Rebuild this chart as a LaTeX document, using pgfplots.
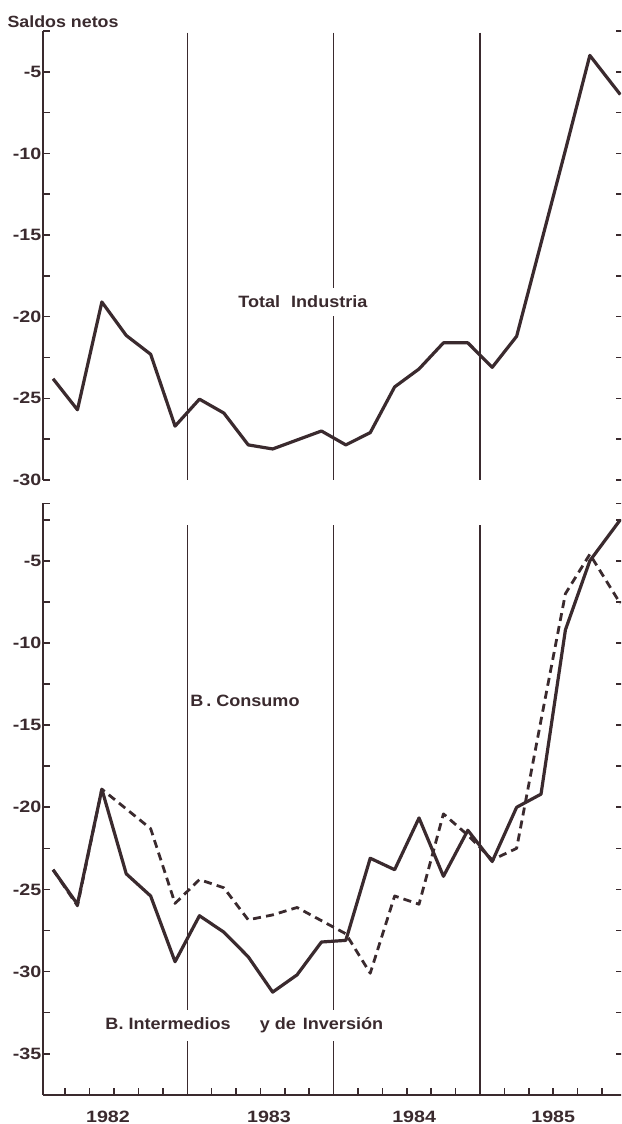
\documentclass[border=0pt]{standalone}
\usepackage{pgfplots}
\pgfplotsset{compat=1.18}
\usepackage{fontspec}
\setmainfont{Liberation Sans}
\newfontfamily\chartfont{Liberation Sans}[FakeStretch=1.2]
\newfontfamily\labelfont{Liberation Sans}[FakeStretch=1.1]
\definecolor{ink}{RGB}{58,42,46}

\tikzset{
  solidline/.style={ink, line width=1.6pt, line join=round, mark=none},
  dashline/.style={ink, line width=1.4pt, line join=round, mark=none, dash pattern=on 4pt off 2.6pt},
  yearline/.style={ink, line width=0.65pt},
  lbl/.style={font=\labelfont\bfseries\fontsize{8.2}{9}\selectfont, text=ink},
}
\pgfplotsset{
  panel/.style={
    scale only axis,
    width=289.85pt,
    xmin=0.1, xmax=23.86,
    axis y line*=box,
    tick align=inside,
    major tick length=3.5pt, minor tick length=3.5pt,
    axis line style={ink, line width=1pt},
    every tick/.style={ink, line width=0.8pt},
    tick label style={font=\chartfont\bfseries\fontsize{8.2}{9}\selectfont, text=ink},
    yticklabel style={inner xsep=0.8pt},
  },
}

\begin{document}
\begin{tikzpicture}
\useasboundingbox (0,0) rectangle (310.5pt,-562pt);
\clip (0,0) rectangle (310.5pt,-562pt);

\node[anchor=base west, inner sep=0pt, text=ink,
      font=\labelfont\bfseries\fontsize{8.1}{9}\selectfont] at (3.6pt,-13.6pt) {Saldos netos};

% panel superior: total industria
\begin{axis}[panel, at={(21.65pt,-240pt)}, anchor=south west,
  height=224.55pt, ymin=-30, ymax=-2.5,
  axis x line=none,
  ytick={-30,-25,-20,-15,-10,-5},
  yticklabels={-30,-25,-20,-15,-10,-5},
  minor ytick={-27.5,-22.5,-17.5,-12.5,-7.5,-2.5}]
\draw[yearline] (axis cs:6,-2.6) -- (axis cs:6,-30);
\draw[yearline] (axis cs:12,-2.6) -- (axis cs:12,-30);
\draw[yearline] (axis cs:18,-2.6) -- (axis cs:18,-30);
\addplot[solidline] coordinates {
(0.5,-23.8) (1.5,-25.7) (2.5,-19.1) (3.5,-21.15) (4.5,-22.3) (5.5,-26.7)
(6.5,-25.05) (7.5,-25.9) (8.5,-27.85) (9.5,-28.1) (10.5,-27.55) (11.5,-27.0)
(12.5,-27.85) (13.5,-27.1) (14.5,-24.3) (15.5,-23.2) (16.5,-21.6) (17.5,-21.6)
(18.5,-23.1) (19.5,-21.2) (20.5,-15.5) (21.5,-9.8) (22.5,-4.0) (23.75,-6.4)
};
\node[lbl, anchor=base, fill=white, inner xsep=1pt, inner ysep=4pt]
  at (axis cs:10.74,-19.45) {Total\hspace{3pt} Industria};
\end{axis}

% panel inferior: consumo e intermedios
\begin{axis}[panel, at={(21.65pt,-547.4pt)}, anchor=south west,
  height=295.75pt, ymin=-37.5, ymax=-1.5,
  axis x line*=bottom,
  xtick={1,2,3,4,5,7,8,9,10,11,13,14,15,16,17,19,20,21,22,23},
  xticklabels={},
  extra x ticks={2.75,9.35,15.3,21},
  extra x tick labels={1982,1983,1984,1985},
  extra x tick style={major tick length=0pt,
    xticklabel style={anchor=base, yshift=-13.75pt}},
  ytick={-35,-30,-25,-20,-15,-10,-5},
  yticklabels={-35,-30,-25,-20,-15,-10,-5},
  minor ytick={-32.5,-27.5,-22.5,-17.5,-12.5,-7.5,-2.5},
  extra y ticks={-1.5}, extra y tick labels={}]
\draw[yearline] (axis cs:6,-2.85) -- (axis cs:6,-37.5);
\draw[yearline] (axis cs:12,-2.85) -- (axis cs:12,-37.5);
\draw[yearline] (axis cs:18,-2.85) -- (axis cs:18,-37.5);
\addplot[dashline] coordinates {
(0.5,-23.8) (1.5,-26.0) (2.5,-18.9) (3.5,-20.1) (4.5,-21.3) (5.5,-25.85)
(6.5,-24.4) (7.5,-24.9) (8.5,-26.85) (9.5,-26.55) (10.5,-26.1) (11.5,-26.9)
(12.5,-27.7) (13.5,-30.1) (14.5,-25.4) (15.5,-25.9) (16.5,-20.4) (17.5,-21.7)
(18.5,-23.2) (19.5,-22.5) (20.5,-14.7) (21.5,-7.0) (22.5,-4.6) (23.75,-7.6)
};
\addplot[solidline] coordinates {
(0.5,-23.8) (1.5,-25.9) (2.5,-18.9) (3.5,-24.05) (4.5,-25.4) (5.5,-29.4)
(6.5,-26.6) (7.5,-27.6) (8.5,-29.1) (9.5,-31.25) (10.5,-30.2) (11.5,-28.2)
(12.5,-28.1) (13.5,-23.1) (14.5,-23.8) (15.5,-20.65) (16.5,-24.2) (17.5,-21.4)
(18.5,-23.3) (19.5,-20.0) (20.5,-19.2) (21.5,-9.2) (22.5,-5.0) (23.75,-2.5)
};
\node[lbl, anchor=base west, inner sep=0pt] at (axis cs:6.11,-13.87) {B\hspace{1.5pt}.\hspace{2.5pt}Consumo};
\node[lbl, anchor=base west, fill=white, inner xsep=1pt, inner ysep=4pt]
  at (axis cs:2.55,-33.55) {B. Intermedios\hspace{12pt} y de\hspace{1pt} Inversión};
\end{axis}
\end{tikzpicture}
\end{document}
